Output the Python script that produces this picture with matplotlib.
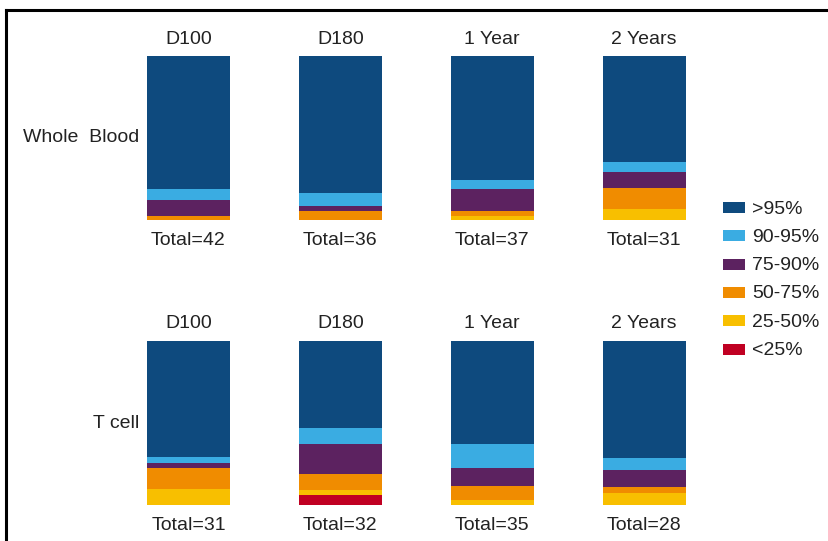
import matplotlib
matplotlib.use("Agg")
import matplotlib.pyplot as plt
from matplotlib.patches import Rectangle
from matplotlib.lines import Line2D
import numpy as np

plt.rcParams['font.family'] = ['Liberation Sans', 'DejaVu Sans']

timepoints = ["D100", "D180", "1 Year", "2 Years"]
categories = [">95%", "90-95%", "75-90%", "50-75%", "25-50%", "<25%"]
colors = ["#0E4A7E", "#3AACE2", "#5C2260", "#F08C00", "#F8BF00", "#C00022"]

# patient counts per category at each timepoint
whole_blood = {
    ">95%":   [34, 30, 28, 20],
    "90-95%": [3, 3, 2, 2],
    "75-90%": [4, 1, 5, 3],
    "50-75%": [1, 2, 1, 4],
    "25-50%": [0, 0, 1, 2],
    "<25%":   [0, 0, 0, 0],
}
t_cell = {
    ">95%":   [22, 17, 22, 20],
    "90-95%": [1, 3, 5, 2],
    "75-90%": [1, 6, 4, 3],
    "50-75%": [4, 3, 3, 1],
    "25-50%": [3, 1, 1, 2],
    "<25%":   [0, 2, 0, 0],
}
wb_totals = [42, 36, 37, 31]
tc_totals = [31, 32, 35, 28]
row_labels = ["Whole  Blood", "T cell"]

W, H = 829, 541
fig = plt.figure(figsize=(W / 100, H / 100), dpi=100)
TXT = "#222222"
FS = 14


def fx(px):
    return px / W


def fy(py):
    return 1 - py / H


ax_left = 112.5
ax_right = 720
rows = [(whole_blood, wb_totals, 56, 220, 138), (t_cell, tc_totals, 341, 505, 424)]
x = np.arange(len(timepoints))

for (data, totals, top, bot, lab_y), rlabel in zip(rows, row_labels):
    ax = fig.add_axes([fx(ax_left), fy(bot), fx(ax_right - ax_left), (bot - top) / H])
    tot = np.array(totals, dtype=float)
    bottom = np.zeros(len(timepoints))
    for cat, col in zip(reversed(categories), reversed(colors)):
        vals = np.array(data[cat]) / tot * 100
        ax.bar(x, vals, width=0.546, bottom=bottom, color=col, linewidth=0)
        bottom += vals
    ax.set_xlim(-0.5, 3.5)
    ax.set_ylim(0, 100)
    ax.axis("off")
    for xi, tp, t in zip(x, timepoints, totals):
        ax.annotate(tp, (xi, 100), xytext=(0, 17 * 0.72), textcoords="offset points",
                    ha="center", va="center", fontsize=FS, color=TXT)
        ax.annotate(f"Total={t}", (xi, 0), xytext=(0, -20.5 * 0.72), textcoords="offset points",
                    ha="center", va="center", fontsize=FS, color=TXT)
    fig.text(fx(139), fy(lab_y), rlabel, ha="right", va="center", fontsize=FS, color=TXT)

# legend
for i, (cat, col) in enumerate(zip(categories, colors)):
    yc = 207.5 + i * 28.3
    fig.patches.append(Rectangle((fx(723), fy(yc + 5.5)), fx(22), 11 / H,
                                 transform=fig.transFigure, color=col, linewidth=0))
    fig.text(fx(752), fy(yc + 1.5), cat, ha="left", va="center", fontsize=FS, color=TXT)

# frame lines
fig.add_artist(Line2D([fx(6), fx(6)], [fy(10), 0], transform=fig.transFigure, color="black", linewidth=2.2))
fig.add_artist(Line2D([fx(6), 1], [fy(10), fy(10)], transform=fig.transFigure, color="black", linewidth=2.2))

fig.savefig("out.png", dpi=100)
